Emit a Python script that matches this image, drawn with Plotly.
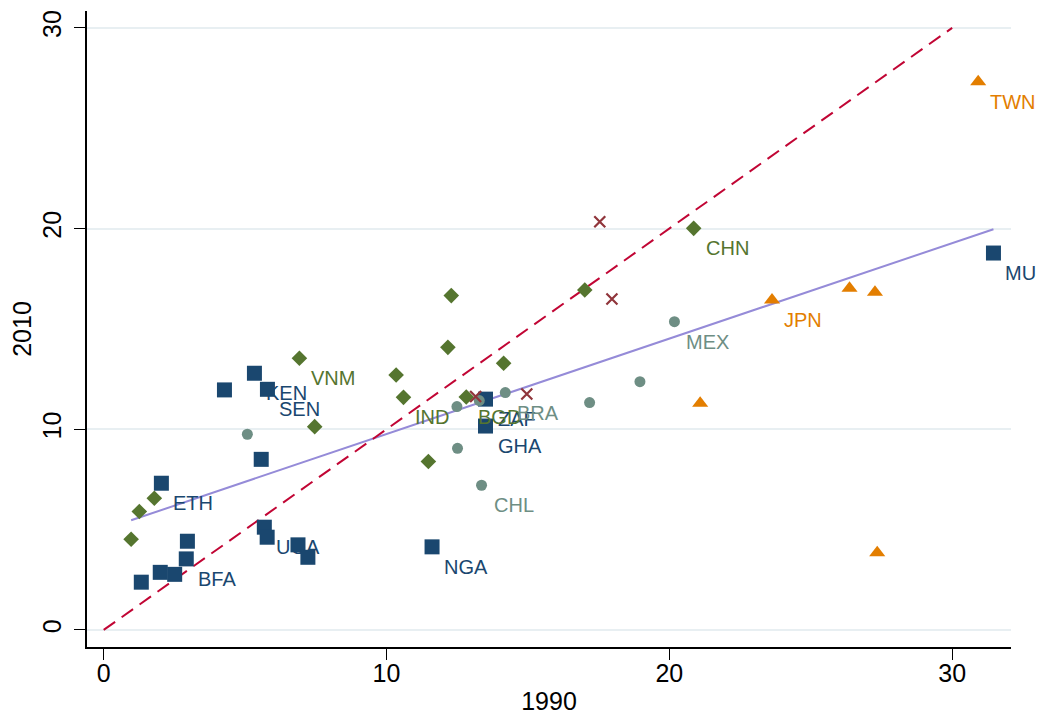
import numpy as np
import plotly.graph_objects as go

# ---------------- data ----------------
# navy squares
sq_x = [1.33, 2.00, 2.51, 2.92, 2.96, 2.04, 4.27, 5.33, 5.79, 5.57, 5.68, 5.78, 6.87, 7.22, 11.61, 13.50, 13.50, 31.46]
sq_y = [2.38, 2.87, 2.77, 3.54, 4.42, 7.31, 11.96, 12.79, 11.99, 8.50, 5.12, 4.62, 4.24, 3.62, 4.14, 11.50, 10.16, 18.78]
sq_lab = ["", "", "", "BFA", "", "ETH", "", "KEN", "SEN", "", "UGA", "", "", "", "NGA", "ZAF", "GHA", "MU"]

# green diamonds
di_x = [0.97, 1.26, 1.79, 6.92, 7.46, 10.34, 10.60, 11.48, 12.17, 12.29, 12.82, 14.14, 17.01, 20.86]
di_y = [4.52, 5.90, 6.56, 13.54, 10.13, 12.70, 11.59, 8.39, 14.08, 16.66, 11.61, 13.29, 16.94, 20.01]
di_lab = ["", "", "", "VNM", "", "", "IND", "", "", "", "BGD", "", "", "CHN"]

# teal circles
ci_x = [5.08, 12.49, 12.51, 13.28, 13.36, 14.20, 17.18, 18.96, 20.18]
ci_y = [9.75, 11.13, 9.05, 11.43, 7.21, 11.83, 11.33, 12.37, 15.36]
ci_lab = ["", "", "", "", "CHL", "BRA", "", "", "MEX"]

# orange triangles
tr_x = [21.09, 23.63, 26.37, 27.27, 27.35, 30.92]
tr_y = [11.29, 16.44, 17.02, 16.83, 3.85, 27.32]
tr_lab = ["", "JPN", "", "", "", "TWN"]

# maroon crosses
xx_x = [13.15, 14.96, 17.54, 17.97]
xx_y = [11.63, 11.76, 20.34, 16.49]

# 45-degree reference line extent
diag = [0, 30]

x_ticks = [0, 10, 20, 30]
y_ticks = [0, 10, 20, 30]
x_title = "1990"
y_title = "2010"

# ---------------- styling ----------------
NAVY = "#1a476f"
GREEN = "#55752f"
TEAL = "#6e8e84"
ORANGE = "#e37e00"
MAROON = "#90353b"
CRAN = "#c10534"
LAV = "#958bd8"
FONT = "Liberation Sans, Arial, sans-serif"

fig = go.Figure()

# fitted line (OLS over all points)
all_x = np.array(sq_x + di_x + ci_x + tr_x + xx_x)
all_y = np.array(sq_y + di_y + ci_y + tr_y + xx_y)
slope, icpt = np.polyfit(all_x, all_y, 1)
fx = np.array([all_x.min(), all_x.max()])
fig.add_trace(go.Scatter(x=fx, y=icpt + slope * fx, mode="lines",
                         line=dict(color=LAV, width=2), hoverinfo="skip"))

fig.add_trace(go.Scatter(x=diag, y=diag, mode="lines",
                         line=dict(color=CRAN, width=2, dash="14px,8px"), hoverinfo="skip"))

series = [
    (sq_x, sq_y, "square", 15, NAVY),
    (di_x, di_y, "diamond", 12, GREEN),
    (ci_x, ci_y, "circle", 11, TEAL),
    (tr_x, tr_y, "triangle-up", 14, ORANGE),
]
for xs, ys, sym, size, col in series:
    fig.add_trace(go.Scatter(x=xs, y=ys, mode="markers",
                             marker=dict(symbol=sym, size=size, color=col, line=dict(width=0))))
fig.add_trace(go.Scatter(x=xx_x, y=xx_y, mode="markers",
                         marker=dict(symbol="x-thin", size=11, color=MAROON,
                                     line=dict(width=2.2, color=MAROON))))

annots = []
for xs, ys, labs, col in [(sq_x, sq_y, sq_lab, NAVY), (di_x, di_y, di_lab, GREEN),
                          (ci_x, ci_y, ci_lab, TEAL), (tr_x, tr_y, tr_lab, ORANGE)]:
    for xv, yv, t in zip(xs, ys, labs):
        if t:
            annots.append(dict(x=xv, y=yv, text=t, showarrow=False, xanchor="left",
                               yanchor="middle", xshift=10, yshift=-20,
                               font=dict(family=FONT, size=20, color=col)))

fig.update_layout(
    width=1043, height=715,
    margin=dict(l=87, r=32, t=11, b=68),
    paper_bgcolor="white", plot_bgcolor="white",
    showlegend=False,
    annotations=annots,
    font=dict(family=FONT, color="black"),
)
fig.update_xaxes(range=[-0.59, 32.08], tickvals=x_ticks, ticks="outside", ticklen=11,
                 tickwidth=1.3, tickcolor="black", showline=True, linecolor="black",
                 linewidth=1.5, showgrid=False, zeroline=False, ticklabelstandoff=-8,
                 automargin=False,
                 tickfont=dict(size=25, family=FONT, color="black"),
                 title=dict(text=x_title, font=dict(size=25, family=FONT, color="black"), standoff=24))
fig.update_yaxes(range=[-0.85, 30.84], tickvals=y_ticks, ticks="outside", ticklen=11,
                 tickwidth=1.3, tickcolor="black", showline=True, linecolor="black",
                 linewidth=1.5, showgrid=True, gridcolor="#e8eff2", gridwidth=2,
                 zeroline=False, tickangle=-90, ticklabelstandoff=3, automargin=False,
                 tickfont=dict(size=25, family=FONT, color="black"),
                 title=dict(text=y_title, font=dict(size=25, family=FONT, color="black"), standoff=0))

fig.write_html("out.html", config={"displayModeBar": False},
               post_script="document.body.style.margin='0';")
